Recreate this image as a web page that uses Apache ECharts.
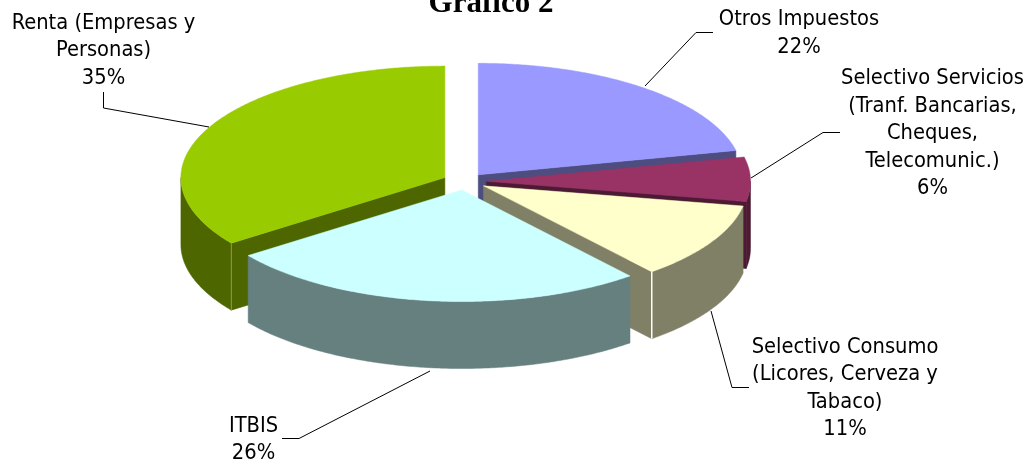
<!DOCTYPE html>
<html><head><meta charset="utf-8">
<style>html,body{margin:0;padding:0;background:#fff}#c{width:1027px;height:462px}</style>
<script src="https://cdn.jsdelivr.net/npm/echarts@6/dist/echarts.min.js"></script>
</head><body><div id="c"></div>
<script>
// Data (clockwise from 12 o'clock)
const categories = ['Otros Impuestos','Selectivo Servicios\n(Tranf. Bancarias,\nCheques,\nTelecomunic.)','Selectivo Consumo\n(Licores, Cerveza y\nTabaco)','ITBIS','Renta (Empresas y\nPersonas)'];
const shares = [21.5, 6.4, 11.1, 26, 35];
const percentLabels = ['22%','6%','11%','26%','35%'];

// Styles and layout
const topColors  = ['#9999FF','#993366','#FFFFCC','#CCFFFF','#99CC00'];
const sideColors = ['#4D4D80','#4D1A33','#808066','#668080','#4D6600'];
const edgeColors = [null,null,'#FFFFFF',null,'#8F9A55'];
const paintOrder = [0,1,2,4,3];
const PIE = {cx:464.5, cy:181.5, rx:264, ry:111.5, depth:67, explode:22, explodeK:0.39};
const labelPos = [[799,33.5],[932.5,133.5],[845,388.5],[253.5,440],[103.5,50.5]];
const leaders = [
  [[645,86],[696,32.5],[713,32.5]],
  [[751,178],[823,132.5],[840,132.5]],
  [[711,311],[732,387.5],[749,387.5]],
  [[430,371],[299,438.5],[282,438.5]],
  [[103.5,92],[103.5,108],[209,127]]
];
const FONT = '21.7px "DejaVu Sans Condensed"';

const total = shares.reduce((a,b)=>a+b,0);
let acc = 0;
const spans = shares.map(v=>{const s=acc/total*2*Math.PI; acc+=v; return [s,acc/total*2*Math.PI];});

function renderSlice(params, api){
  const i = api.value(0), t0 = spans[i][0], t1 = spans[i][1], mid=(t0+t1)/2;
  const ax = PIE.cx + PIE.explode*Math.sin(mid);
  const ay = PIE.cy - PIE.explode*PIE.explodeK*Math.cos(mid);
  const rim = t=>[ax+PIE.rx*Math.sin(t), ay-PIE.ry*Math.cos(t)];
  const down = p=>[p[0],p[1]+PIE.depth];
  const arc = (a,b)=>{const n=Math.max(2,Math.ceil((b-a)/0.01)),o=[];for(let k=0;k<=n;k++)o.push(rim(a+(b-a)*k/n));return o;};
  const kids = [];
  const poly = (pts,fill)=>kids.push({type:'polygon',shape:{points:pts},style:{fill:fill,stroke:fill,lineWidth:0.5}});
  const wall = t=>{const p=rim(t);poly([[ax,ay],p,down(p),[ax,ay+PIE.depth]],sideColors[i]);};
  if(Math.sin(t1)>1e-6) wall(t1);
  if(Math.sin(t0)<-1e-6) wall(t0);
  const a=Math.max(t0,Math.PI/2), b=Math.min(t1,1.5*Math.PI);
  if(b>a){const top=arc(a,b);poly(top.concat(top.slice().reverse().map(down)),sideColors[i]);}
  poly([[ax,ay]].concat(arc(t0,t1)),topColors[i]);
  if(edgeColors[i]){
    const t=i===2?t1:t0,p=rim(t);
    kids.push({type:'line',shape:{x1:p[0],y1:p[1],x2:p[0],y2:p[1]+PIE.depth},style:{stroke:edgeColors[i],lineWidth:i===2?1.5:1}});
  }
  return {type:'group',children:kids};
}
function renderLabel(params, api){
  const i = api.value(0);
  return {type:'group',children:[
    {type:'polyline',shape:{points:leaders[i]},style:{stroke:'#000',lineWidth:1,fill:null}},
    {type:'text',style:{text:categories[i]+'\n'+percentLabels[i],x:labelPos[i][0],y:labelPos[i][1],
      textAlign:'center',textVerticalAlign:'middle',font:FONT,lineHeight:27.4,fill:'#000'}}
  ]};
}
const chart = echarts.init(document.getElementById('c'),null,{renderer:'canvas'});
chart.setOption({
  animation:false,
  backgroundColor:'#fff',
  title:{text:'Gráfico 2',left:486,top:-17,textAlign:'center',textStyle:{fontFamily:'"Liberation Serif"',fontWeight:'bold',fontSize:31,color:'#000'}},
  series:[
    {type:'custom',coordinateSystem:'none',renderItem:renderSlice,data:paintOrder.map(i=>[i,shares[i]]),silent:true},
    {type:'custom',coordinateSystem:'none',renderItem:renderLabel,data:paintOrder.map(i=>[i,shares[i]]),silent:true,z:3}
  ]
});
</script></body></html>
